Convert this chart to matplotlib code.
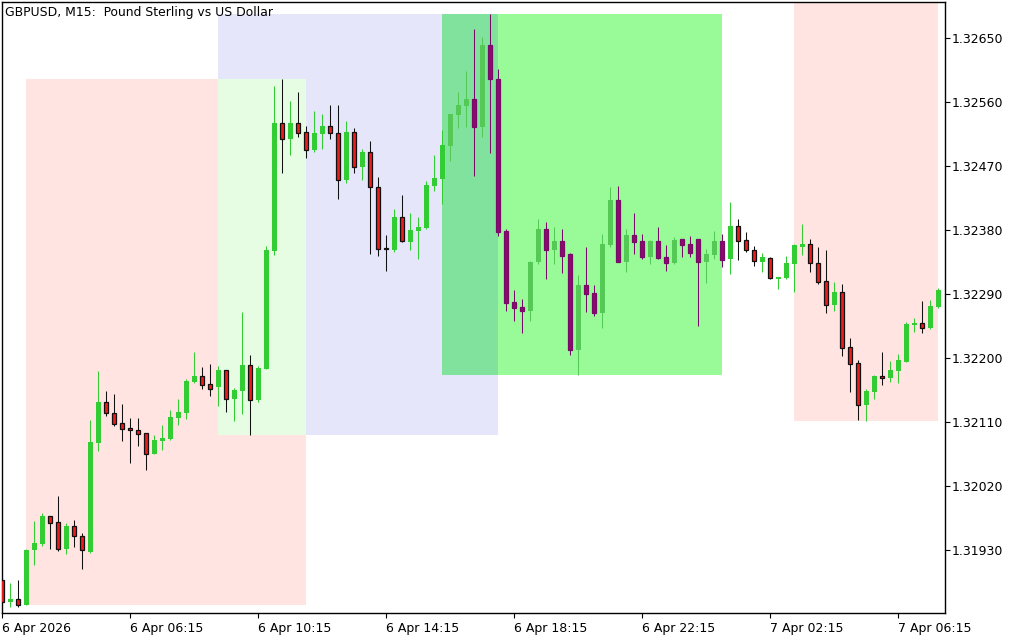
import matplotlib
matplotlib.use("Agg")
import matplotlib.pyplot as plt
from matplotlib.patches import Rectangle
from matplotlib import colors as mcolors

# ---------------- data (GBPUSD M15) ----------------
opens = [1.31887, 1.31857, 1.31861, 1.31852, 1.31929, 1.31938, 1.31977, 1.31969, 1.31931, 1.31963,
         1.31949, 1.31927, 1.32080, 1.32138, 1.32123, 1.32108, 1.32101, 1.32099, 1.32094, 1.32065,
         1.32083, 1.32086, 1.32115, 1.32123, 1.32166, 1.32175, 1.32163, 1.32159, 1.32183, 1.32142,
         1.32153, 1.32190, 1.32141, 1.32184, 1.32351, 1.32531, 1.32508, 1.32531, 1.32518, 1.32492,
         1.32515, 1.32527, 1.32517, 1.32451, 1.32518, 1.32469, 1.32490, 1.32441, 1.32355, 1.32352,
         1.32399, 1.32363, 1.32379, 1.32383, 1.32442, 1.32452, 1.32499, 1.32542, 1.32555, 1.32565,
         1.32525, 1.32641, 1.32593, 1.32379, 1.32279, 1.32272, 1.32266, 1.32335, 1.32382, 1.32352,
         1.32365, 1.32346, 1.32211, 1.32303, 1.32292, 1.32263, 1.32359, 1.32423, 1.32335, 1.32373,
         1.32365, 1.32342, 1.32365, 1.32342, 1.32334, 1.32368, 1.32361, 1.32368, 1.32335, 1.32345,
         1.32365, 1.32339, 1.32386, 1.32366, 1.32352, 1.32335, 1.32341, 1.32311, 1.32313, 1.32332,
         1.32356, 1.32361, 1.32334, 1.32308, 1.32275, 1.32293, 1.32215, 1.32193, 1.32134, 1.32152,
         1.32175, 1.32172, 1.32182, 1.32194, 1.32246, 1.32249, 1.32242, 1.32272]
highs = [1.31890, 1.31883, 1.31887, 1.31931, 1.31970, 1.31982, 1.31977, 1.32006, 1.31968, 1.31972,
         1.31953, 1.32113, 1.32182, 1.32153, 1.32149, 1.32135, 1.32115, 1.32115, 1.32094, 1.32092,
         1.32106, 1.32127, 1.32142, 1.32170, 1.32208, 1.32187, 1.32192, 1.32189, 1.32183, 1.32158,
         1.32265, 1.32204, 1.32189, 1.32358, 1.32583, 1.32592, 1.32562, 1.32575, 1.32527, 1.32548,
         1.32544, 1.32556, 1.32556, 1.32534, 1.32524, 1.32494, 1.32506, 1.32455, 1.32373, 1.32410,
         1.32430, 1.32404, 1.32399, 1.32449, 1.32486, 1.32521, 1.32544, 1.32575, 1.32604, 1.32663,
         1.32652, 1.32684, 1.32607, 1.32382, 1.32296, 1.32283, 1.32337, 1.32396, 1.32392, 1.32384,
         1.32382, 1.32348, 1.32317, 1.32356, 1.32303, 1.32375, 1.32441, 1.32442, 1.32382, 1.32404,
         1.32375, 1.32366, 1.32384, 1.32359, 1.32370, 1.32368, 1.32372, 1.32368, 1.32353, 1.32379,
         1.32375, 1.32420, 1.32396, 1.32377, 1.32358, 1.32348, 1.32342, 1.32314, 1.32344, 1.32361,
         1.32389, 1.32368, 1.32356, 1.32352, 1.32307, 1.32304, 1.32228, 1.32197, 1.32156, 1.32176,
         1.32208, 1.32196, 1.32206, 1.32251, 1.32256, 1.32280, 1.32282, 1.32299]
lows = [1.31854, 1.31849, 1.31850, 1.31852, 1.31908, 1.31935, 1.31931, 1.31928, 1.31924, 1.31934,
        1.31903, 1.31925, 1.32069, 1.32118, 1.32104, 1.32083, 1.32052, 1.32076, 1.32042, 1.32065,
        1.32070, 1.32084, 1.32106, 1.32114, 1.32165, 1.32156, 1.32146, 1.32132, 1.32124, 1.32111,
        1.32121, 1.32092, 1.32138, 1.32184, 1.32345, 1.32461, 1.32486, 1.32511, 1.32482, 1.32490,
        1.32494, 1.32508, 1.32424, 1.32446, 1.32460, 1.32451, 1.32346, 1.32344, 1.32322, 1.32349,
        1.32363, 1.32352, 1.32339, 1.32382, 1.32435, 1.32417, 1.32477, 1.32523, 1.32525, 1.32456,
        1.32511, 1.32489, 1.32372, 1.32266, 1.32252, 1.32235, 1.32252, 1.32332, 1.32311, 1.32332,
        1.32320, 1.32204, 1.32176, 1.32265, 1.32259, 1.32242, 1.32356, 1.32335, 1.32321, 1.32346,
        1.32339, 1.32332, 1.32339, 1.32322, 1.32332, 1.32342, 1.32342, 1.32245, 1.32306, 1.32339,
        1.32328, 1.32318, 1.32338, 1.32349, 1.32330, 1.32321, 1.32311, 1.32297, 1.32311, 1.32293,
        1.32345, 1.32321, 1.32304, 1.32263, 1.32266, 1.32203, 1.32152, 1.32113, 1.32111, 1.32142,
        1.32162, 1.32166, 1.32165, 1.32194, 1.32237, 1.32235, 1.32241, 1.32270]
closes = [1.31856, 1.31861, 1.31852, 1.31930, 1.31939, 1.31977, 1.31968, 1.31931, 1.31963, 1.31949,
          1.31929, 1.32082, 1.32138, 1.32122, 1.32107, 1.32100, 1.32098, 1.32093, 1.32065, 1.32084,
          1.32087, 1.32117, 1.32124, 1.32168, 1.32175, 1.32162, 1.32156, 1.32183, 1.32142, 1.32155,
          1.32190, 1.32141, 1.32186, 1.32352, 1.32531, 1.32508, 1.32531, 1.32517, 1.32492, 1.32517,
          1.32527, 1.32516, 1.32451, 1.32518, 1.32469, 1.32490, 1.32440, 1.32354, 1.32353, 1.32399,
          1.32365, 1.32380, 1.32384, 1.32444, 1.32453, 1.32500, 1.32544, 1.32556, 1.32565, 1.32525,
          1.32641, 1.32592, 1.32377, 1.32277, 1.32270, 1.32266, 1.32335, 1.32382, 1.32352, 1.32365,
          1.32344, 1.32211, 1.32303, 1.32290, 1.32263, 1.32361, 1.32423, 1.32335, 1.32373, 1.32363,
          1.32342, 1.32365, 1.32341, 1.32334, 1.32366, 1.32359, 1.32348, 1.32335, 1.32346, 1.32365,
          1.32338, 1.32386, 1.32364, 1.32352, 1.32336, 1.32342, 1.32312, 1.32314, 1.32334, 1.32359,
          1.32361, 1.32333, 1.32307, 1.32275, 1.32293, 1.32214, 1.32192, 1.32134, 1.32153, 1.32175,
          1.32172, 1.32183, 1.32197, 1.32248, 1.32249, 1.32242, 1.32273, 1.32296]

xtick_bars = [0, 16, 32, 48, 64, 80, 96, 112]
xtick_labels = ["6 Apr 2026", "6 Apr 06:15", "6 Apr 10:15", "6 Apr 14:15",
                "6 Apr 18:15", "6 Apr 22:15", "7 Apr 02:15", "7 Apr 06:15"]
ytick_values = [1.31930, 1.32020, 1.32110, 1.32200, 1.32290, 1.32380, 1.32470, 1.32560, 1.32650]

# zones: (first bar, last bar, low price, high price, colour)
zone_start = [3, 27, 55, 99]
zone_end = [38, 62, 90, 117]
zone_low = [1.31852, 1.32092, 1.32176, 1.32111]
zone_high = [1.32592, 1.32684, 1.32684, 1.32750]
zone_color = ["#FFE4E1", "#E6E6FA", "#98FB98", "#FFE4E1"]
foreground_zone = 2  # drawn over candles (XOR-like blending)

title = "GBPUSD, M15:  Pound Sterling vs US Dollar"

# ---------------- figure ----------------
W, H = 1024, 640
fig = plt.figure(figsize=(W / 100, H / 100), dpi=100)
ax = fig.add_axes([2 / W, 27 / H, 943 / W, 611 / H])
ax.set_xlim(-0.04, 117.84)
ax.set_ylim(1.31841, 1.32701)


def xor_color(*cols):
    r = g = b = 255
    for c in cols:
        cr, cg, cb = [int(round(v * 255)) for v in mcolors.to_rgb(c)]
        r ^= cr ^ 255
        g ^= cg ^ 255
        b ^= cb ^ 255
    return (r / 255, g / 255, b / 255)


# zones
for i in range(len(zone_start)):
    ax.add_patch(Rectangle((zone_start[i], zone_low[i]), zone_end[i] - zone_start[i],
                           zone_high[i] - zone_low[i], facecolor=zone_color[i],
                           edgecolor="none", zorder=0))
# overlaps of zones
for i in range(len(zone_start)):
    for j in range(i + 1, len(zone_start)):
        x0 = max(zone_start[i], zone_start[j]); x1 = min(zone_end[i], zone_end[j])
        y0 = max(zone_low[i], zone_low[j]); y1 = min(zone_high[i], zone_high[j])
        if x1 > x0 and y1 > y0:
            ax.add_patch(Rectangle((x0, y0), x1 - x0, y1 - y0,
                                   facecolor=xor_color(zone_color[i], zone_color[j]),
                                   edgecolor="none", zorder=0.5))

bull = "#32CD32"
bear = "#EA1C1C"
fz = foreground_zone
bull_t = xor_color(bull, zone_color[fz])
bear_t = "#8C0A6A"
edge_t = "#780A6A"

for i in range(len(opens)):
    o, h, l, c = opens[i], highs[i], lows[i], closes[i]
    tinted = zone_start[fz] < i <= zone_end[fz]
    up = c >= o
    if up:
        col = bull_t if tinted else bull
        ax.vlines(i, l, h, color=col, linewidth=0.75, zorder=2)
        ax.bar(i, max(c - o, 0.000004), bottom=o, width=0.6, color=col,
               edgecolor="none", linewidth=0, zorder=3)
    else:
        fcol = bear_t if tinted else bear
        ecol = edge_t if tinted else "#101010"
        ax.vlines(i, l, h, color=ecol, linewidth=0.75, zorder=2)
        ax.bar(i, max(o - c, 0.000004), bottom=c, width=0.52, color=fcol,
               edgecolor=ecol, linewidth=0.9, zorder=3)

# axes styling
for s in ax.spines.values():
    s.set_color("black")
    s.set_linewidth(1.0)
ax.yaxis.tick_right()
ax.set_yticks(ytick_values)
ax.set_yticklabels([f"{v:.5f}" for v in ytick_values])
ax.set_xticks(xtick_bars)
ax.set_xticklabels(xtick_labels, ha="left")
ax.tick_params(axis="both", direction="out", length=3.5, width=0.8, color="black",
               labelsize=9, labelcolor="black")
ax.tick_params(axis="x", pad=3)
ax.tick_params(axis="y", pad=1.5)
for lab in ax.get_xticklabels():
    lab.set_horizontalalignment("left")

fig.text(5 / W, 1 - 12.5 / H, title, fontsize=8.9, va="center", ha="left", color="black")

fig.savefig("out.png", dpi=100, facecolor="white")
